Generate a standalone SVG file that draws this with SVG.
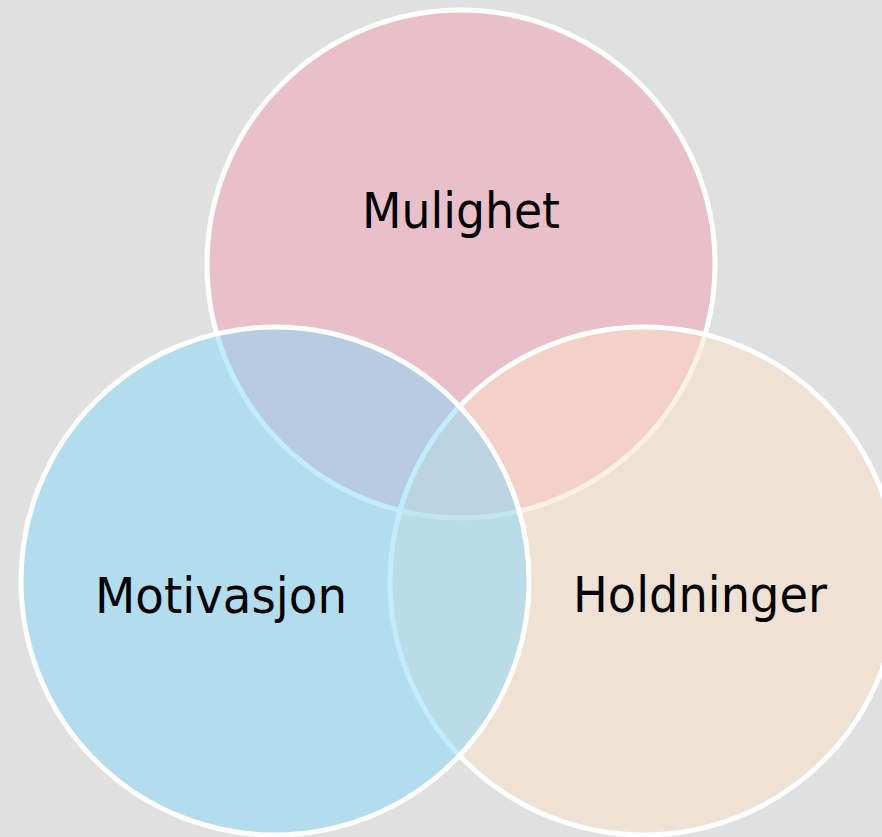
<svg xmlns="http://www.w3.org/2000/svg" width="882" height="837" viewBox="0 0 882 837">
<style>
.c{stroke:#ffffff;stroke-width:5;fill-opacity:0.5}
.t{font-family:"DejaVu Sans","Liberation Sans",sans-serif;font-size:49px;fill:#000;text-anchor:middle}
</style>
<rect width="882" height="837" fill="#e0e0e0"/>
<g id="mulighet">
<circle class="c" cx="461" cy="264" r="254" fill="#f2a0b2"/>
</g>
<g id="holdninger">
<circle class="c" cx="644" cy="581" r="254" fill="#fee2c8"/>
</g>
<g id="motivasjon">
<circle class="c" cx="275" cy="581" r="254" fill="#86d8fc"/>
</g>
<g id="labels">
<text class="t" x="461" y="228" textLength="198" lengthAdjust="spacingAndGlyphs">Mulighet</text>
<text class="t" x="221" y="613" textLength="252" lengthAdjust="spacingAndGlyphs">Motivasjon</text>
<text class="t" x="700" y="612" textLength="254" lengthAdjust="spacingAndGlyphs">Holdninger</text>
</g>
</svg>
